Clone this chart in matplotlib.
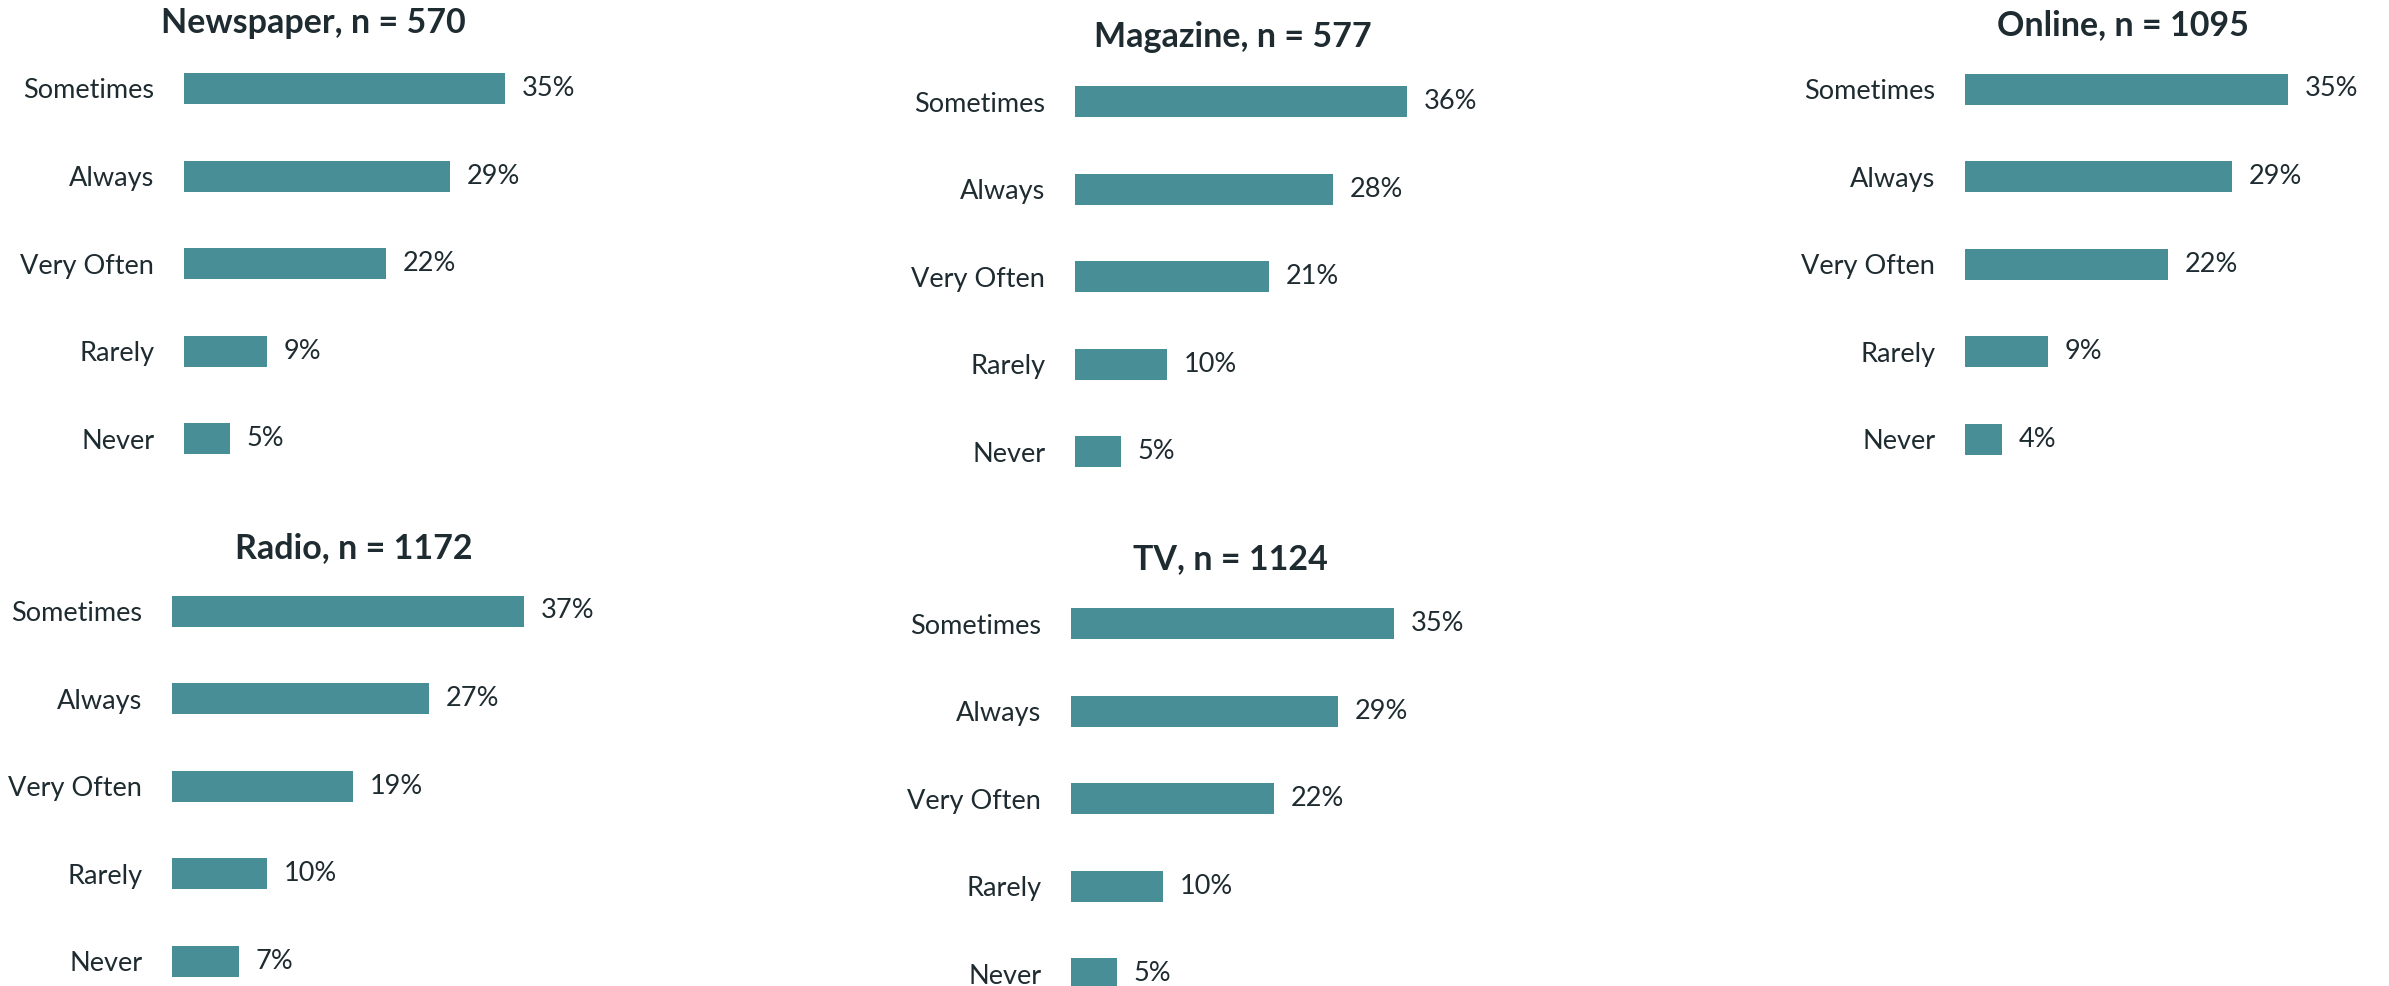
import matplotlib.pyplot as plt

# response categories, top to bottom
categories = ["Sometimes", "Always", "Very Often", "Rarely", "Never"]

media = ["Newspaper", "Magazine", "Online", "Radio", "TV"]
sample_sizes = [570, 577, 1095, 1172, 1124]

newspaper = [35, 29, 22, 9, 5]
magazine = [36, 28, 21, 10, 5]
online = [35, 29, 22, 9, 4]
radio = [37, 27, 19, 10, 7]
tv = [35, 29, 22, 10, 5]
shares = [newspaper, magazine, online, radio, tv]

BAR = "#478E96"
INK = "#1E2B30"

plt.rcParams["font.family"] = ["Lato", "DejaVu Sans"]

W, H = 2389, 986
fig = plt.figure(figsize=(W / 100, H / 100), dpi=100)

# panel layout in pixels: bar origin x, centre of first row, px per percent,
# title centre x, title centre y
row = 87.6
panels = [
    (184, 88.5, 9.17, 313, 23),
    (1075, 101.5, 9.22, 1233, 37),
    (1965, 89, 9.22, 2123, 25),
    (172, 611, 9.52, 354, 548),
    (1071, 623.5, 9.22, 1230, 559),
]

XMAX = 45
for name, n, vals, (x0, y0, ppp, tx, ty) in zip(media, sample_sizes, shares, panels):
    top = y0 - row / 2
    ax = fig.add_axes([x0 / W, 1 - (top + 5 * row) / H,
                       XMAX * ppp / W, 5 * row / H])
    ypos = list(range(len(categories)))
    bars = ax.barh(ypos, vals, height=31 / row, color=BAR)
    ax.set_xlim(0, XMAX)
    ax.set_ylim(len(categories) - 0.5, -0.5)
    ax.set_yticks(ypos)
    ax.set_yticklabels(categories, fontsize=19.5, color=INK)
    ax.tick_params(axis="y", length=0, pad=21.5)
    ax.set_xticks([])
    for s in ax.spines.values():
        s.set_visible(False)
    ax.bar_label(bars, labels=[f"{v}%" for v in vals], padding=12,
                 fontsize=19.5, color=INK)
    fig.text(tx / W, 1 - ty / H, f"{name}, n = {n}", ha="center", va="center",
             fontsize=24.5, fontweight="bold", color=INK)

fig.savefig("out.png", dpi=100)
